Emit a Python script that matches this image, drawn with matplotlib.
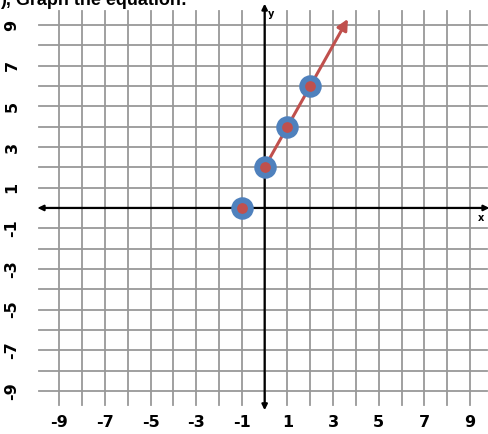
import numpy as np
import matplotlib
matplotlib.use("Agg")
import matplotlib.pyplot as plt
from matplotlib.patches import FancyArrowPatch

# points plotted on the line y = 2x + 2
xs = [-1, 0, 1, 2]
ys = [0, 2, 4, 6]
arrow_tip = (3.65, 9.3)

x_ticks = [-9, -7, -5, -3, -1, 1, 3, 5, 7, 9]
y_ticks = [9, 7, 5, 3, 1, -1, -3, -5, -7, -9]
grid_vals = list(range(-9, 10))

red = "#c0504d"
blue = "#4f81bd"

fig = plt.figure(figsize=(4.88, 4.34), dpi=100)
ax = fig.add_axes([0, 0, 1, 1])
ax.set_xlim(-11.6, 9.79)
ax.set_ylim(-11.12, 10.23)
ax.axis("off")

# grid
for v in grid_vals:
    ax.plot([v, v], [-9.7, 9.7], color="#999999", lw=1.3, zorder=1)
    ax.plot([-9.9, 9.75], [v, v], color="#999999", lw=1.3, zorder=1)

# axes with arrows at both ends
for p0, p1 in [((-9.95, 0), (9.85, 0)), ((0, -9.95), (0, 10.05))]:
    ax.add_patch(FancyArrowPatch(p0, p1, arrowstyle="<|-|>", color="black",
                                 lw=1.6, mutation_scale=8, shrinkA=0,
                                 shrinkB=0, zorder=2))
ax.text(0.3, 9.55, "y", fontsize=7, fontweight="bold", ha="center", va="center")
ax.text(9.5, -0.5, "x", fontsize=7, fontweight="bold", ha="center", va="center")

# tick labels (heavy, like the worksheet)
for t in x_ticks:
    ax.text(t, -10.55, str(t), fontsize=11.5, fontweight="bold", ha="center",
            va="center", family="DejaVu Sans")
for t in y_ticks:
    ax.text(-11.07, t, str(t), fontsize=11.5, fontweight="bold", ha="center",
            va="center", rotation=90, family="DejaVu Sans")

# line with arrow, drawn from the y-intercept point
ax.add_patch(FancyArrowPatch((xs[1], ys[1]), arrow_tip, arrowstyle="-|>",
                             color=red, lw=2.2, mutation_scale=16, shrinkA=0,
                             shrinkB=0, zorder=3))
ax.plot(xs, ys, "o", ms=12, mfc=red, mec=blue, mew=4.2, zorder=4)

fig.text(0.0, 0.998, "), Graph the equation:", fontsize=13, fontweight="bold",
         ha="left", va="center", family="Liberation Sans")

fig.savefig("out.png", dpi=100)
